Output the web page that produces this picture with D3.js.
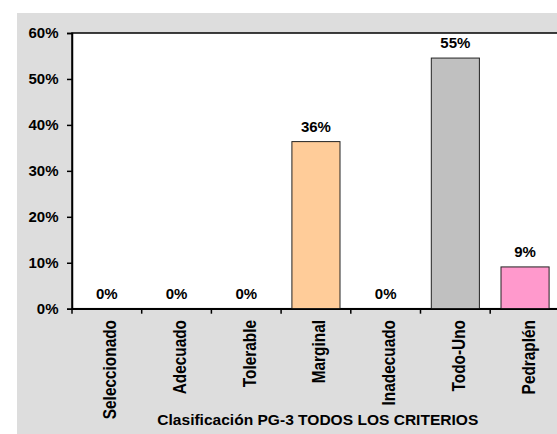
<!DOCTYPE html>
<html>
<head>
<meta charset="utf-8">
<script src="https://cdn.jsdelivr.net/npm/d3@7"></script>
<style>
  html, body { margin: 0; padding: 0; background: #ffffff; }
  svg { display: block; }
  text { font-family: "Liberation Sans", Arial, sans-serif; font-weight: bold; fill: #000; }
</style>
</head>
<body>
<script>
// Clasificación PG-3 (todos los criterios): share of samples per class
const categories = ["Seleccionado", "Adecuado", "Tolerable", "Marginal", "Inadecuado", "Todo-Uno", "Pedraplén"];
const shares = [0, 0, 0, 4 / 11, 0, 6 / 11, 1 / 11];
const barColors = ["#FFCC99", "#FFCC99", "#FFCC99", "#FFCC99", "#FFCC99", "#C0C0C0", "#FF99CC"];
const yTicks = [0, 0.1, 0.2, 0.3, 0.4, 0.5, 0.6];
const xTitle = "Clasificación PG-3 TODOS LOS CRITERIOS";

const W = 557, H = 434;
const plot = { left: 72, top: 33, bottom: 308.7, right: 72 + 7 * 69.7 };

const svg = d3.select("body").append("svg").attr("width", W).attr("height", H);

// chart area background
svg.append("rect").attr("x", 17).attr("y", 13).attr("width", W - 17).attr("height", H - 13)
  .attr("fill", "#DDDDDD");

// plot area
svg.append("rect").attr("x", plot.left).attr("y", plot.top)
  .attr("width", plot.right - plot.left).attr("height", plot.bottom - plot.top)
  .attr("fill", "#ffffff").attr("stroke", "#000").attr("stroke-width", 1.5);

const x = d3.scaleBand().domain(categories).range([plot.left, plot.right])
  .paddingInner(0.31).paddingOuter(0.155);
const y = d3.scaleLinear().domain([0, 0.6]).range([plot.bottom, plot.top]);
const pct = d3.format(".0%");
const val = d => shares[categories.indexOf(d)];

// bars
svg.append("g").selectAll("rect").data(categories.filter(d => val(d) > 0)).join("rect")
  .attr("x", d => x(d))
  .attr("width", x.bandwidth())
  .attr("y", d => y(val(d)))
  .attr("height", d => plot.bottom - y(val(d)))
  .attr("fill", d => barColors[categories.indexOf(d)])
  .attr("stroke", "#222").attr("stroke-width", 1);

// value labels
svg.append("g").selectAll("text").data(categories).join("text")
  .attr("x", d => x(d) + x.bandwidth() / 2)
  .attr("y", d => y(val(d)) - 10)
  .attr("text-anchor", "middle")
  .attr("font-size", 15)
  .text(d => pct(val(d)));

// y axis
const yAxis = svg.append("g").attr("transform", `translate(${plot.left},0)`)
  .call(d3.axisLeft(y).tickValues(yTicks).tickFormat(pct).tickSize(5).tickPadding(8.5));
yAxis.select(".domain").attr("stroke", "#000").attr("stroke-width", 1.5);
yAxis.selectAll(".tick line").attr("stroke", "#000").attr("stroke-width", 1.5);
yAxis.selectAll(".tick text").attr("font-size", 15)
  .attr("font-family", "Liberation Sans, Arial, sans-serif").attr("font-weight", "bold");

// x axis: line plus ticks between categories
const xAxis = svg.append("g").attr("transform", `translate(0,${plot.bottom})`)
  .call(d3.axisBottom(x).tickSize(0).tickFormat(""));
xAxis.select(".domain").attr("stroke", "#000").attr("stroke-width", 1.5);
const bounds = d3.range(categories.length + 1).map(i => plot.left + i * x.step());
svg.append("g").selectAll("line").data(bounds).join("line")
  .attr("x1", d => d).attr("x2", d => d)
  .attr("y1", plot.bottom).attr("y2", plot.bottom + 5)
  .attr("stroke", "#000").attr("stroke-width", 1.5);

// category labels, rotated
svg.append("g").selectAll("text").data(categories).join("text")
  .attr("transform", d => `translate(${x(d) + x.bandwidth() / 2 + 9.5},${plot.bottom + 11.3}) rotate(-90) scale(1,1.15)`)
  .attr("text-anchor", "end")
  .attr("font-size", 15.4)
  .text(d => d);

// axis title
svg.append("text")
  .attr("x", 317.8).attr("y", 424.5)
  .attr("text-anchor", "middle")
  .attr("font-size", 15)
  .attr("textLength", 321)
  .attr("lengthAdjust", "spacingAndGlyphs")
  .text(xTitle);
</script>
</body>
</html>
